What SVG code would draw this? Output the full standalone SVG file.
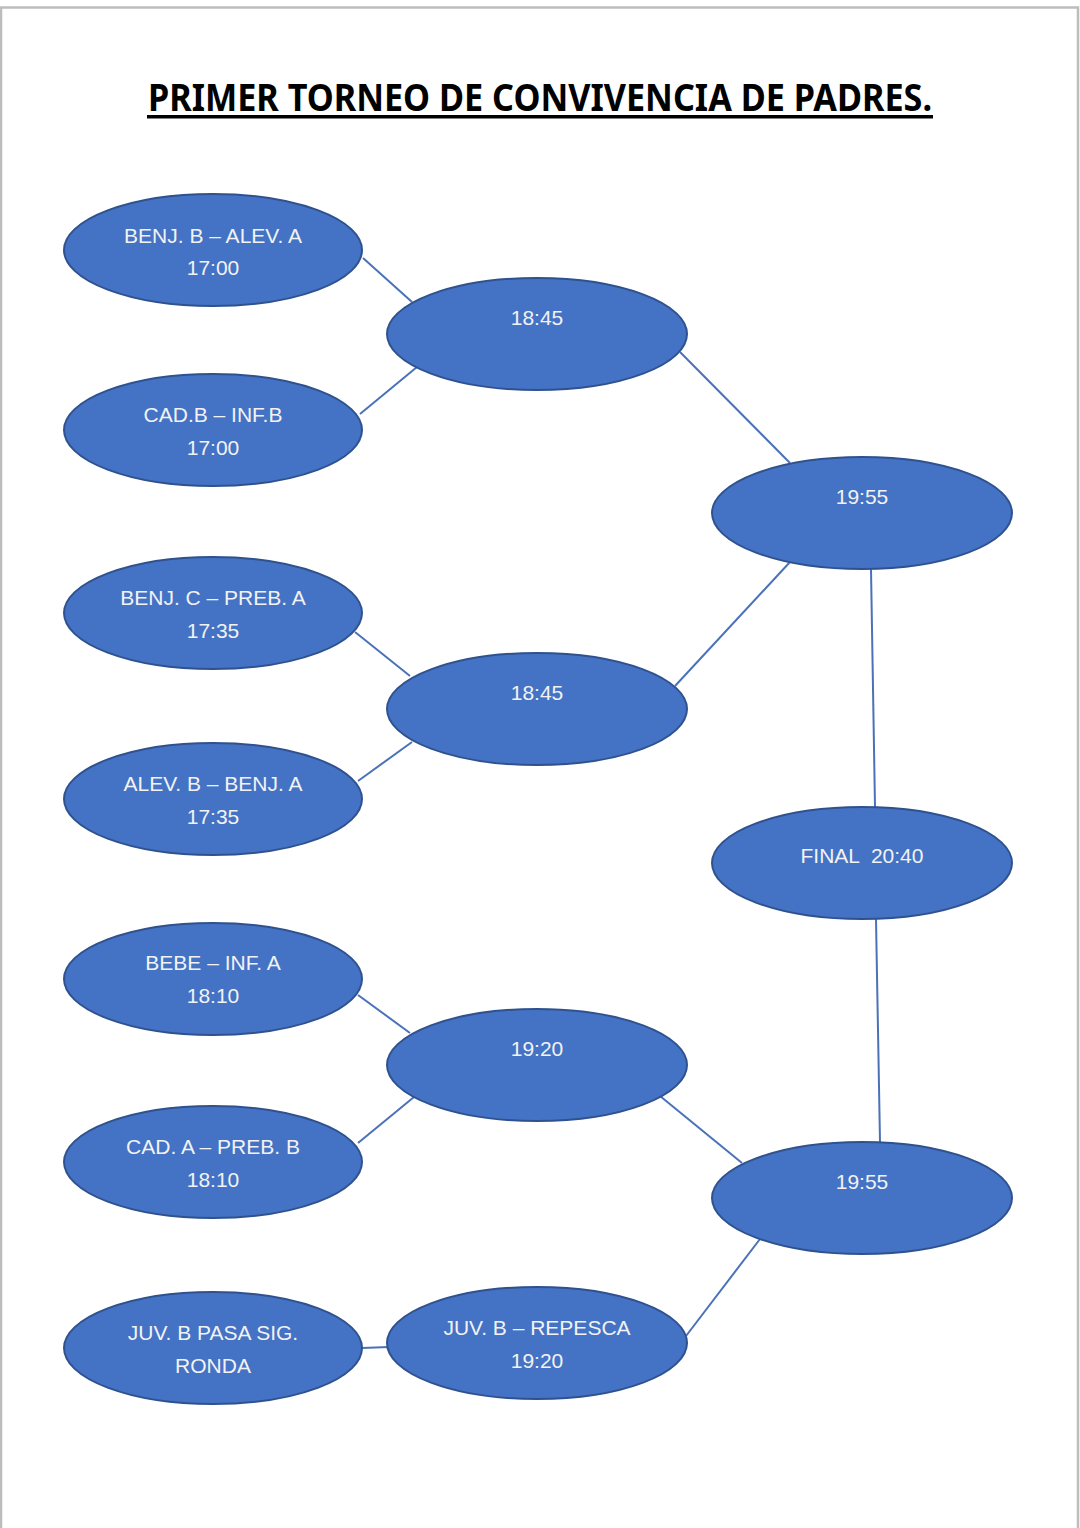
<svg xmlns="http://www.w3.org/2000/svg" width="1080" height="1528" viewBox="0 0 1080 1528">
<style>
.n ellipse{fill:#4472C4;stroke:#2F528F;stroke-width:2}
.n text{fill:#F2F2F2;font-family:"Liberation Sans",Arial,sans-serif;font-size:21px;text-anchor:middle;white-space:pre}
.c line{stroke:#4A72B8;stroke-width:2}
.t{font-family:"Noto Sans","Liberation Sans",Arial,sans-serif;font-weight:bold;font-size:37px;fill:#000}
</style>
<rect x="0" y="0" width="1080" height="1528" fill="#fff"/>
<rect x="1" y="7.5" width="1077" height="1530" fill="none" stroke="#BDBDBD" stroke-width="2.5"/>
<text class="t" x="148" y="111" textLength="784" lengthAdjust="spacingAndGlyphs">PRIMER TORNEO DE CONVIVENCIA DE PADRES.</text>
<rect x="147" y="115" width="786" height="3.5" fill="#000"/>
<g class="c">
<line x1="363" y1="258" x2="412" y2="302"/>
<line x1="360" y1="414" x2="417" y2="367"/>
<line x1="680" y1="352" x2="790" y2="463"/>
<line x1="675" y1="686" x2="790" y2="562"/>
<line x1="355" y1="632" x2="410" y2="676"/>
<line x1="358" y1="781" x2="412" y2="742"/>
<line x1="871" y1="569" x2="875" y2="807"/>
<line x1="876" y1="919" x2="880" y2="1142"/>
<line x1="358" y1="995" x2="410" y2="1033"/>
<line x1="358" y1="1143" x2="414" y2="1097"/>
<line x1="660" y1="1096" x2="742" y2="1163"/>
<line x1="686" y1="1336" x2="760" y2="1239"/>
<line x1="362" y1="1348" x2="389" y2="1347"/>
</g>
<g id="n1" class="n"><ellipse cx="213" cy="250" rx="149" ry="56"/><text x="213" y="243">BENJ. B – ALEV. A</text><text x="213" y="275">17:00</text></g>
<g id="n2" class="n"><ellipse cx="213" cy="430" rx="149" ry="56"/><text x="213" y="422">CAD.B – INF.B</text><text x="213" y="455">17:00</text></g>
<g id="n3" class="n"><ellipse cx="213" cy="613" rx="149" ry="56"/><text x="213" y="605">BENJ. C – PREB. A</text><text x="213" y="638">17:35</text></g>
<g id="n4" class="n"><ellipse cx="213" cy="799" rx="149" ry="56"/><text x="213" y="791">ALEV. B – BENJ. A</text><text x="213" y="824">17:35</text></g>
<g id="n5" class="n"><ellipse cx="213" cy="979" rx="149" ry="56"/><text x="213" y="970">BEBE – INF. A</text><text x="213" y="1003">18:10</text></g>
<g id="n6" class="n"><ellipse cx="213" cy="1162" rx="149" ry="56"/><text x="213" y="1154">CAD. A – PREB. B</text><text x="213" y="1187">18:10</text></g>
<g id="n7" class="n"><ellipse cx="213" cy="1348" rx="149" ry="56"/><text x="213" y="1340">JUV. B PASA SIG.</text><text x="213" y="1373">RONDA</text></g>
<g id="m1" class="n"><ellipse cx="537" cy="334" rx="150" ry="56"/><text x="537" y="325">18:45</text></g>
<g id="m2" class="n"><ellipse cx="537" cy="709" rx="150" ry="56"/><text x="537" y="700">18:45</text></g>
<g id="m3" class="n"><ellipse cx="537" cy="1065" rx="150" ry="56"/><text x="537" y="1056">19:20</text></g>
<g id="m4" class="n"><ellipse cx="537" cy="1343" rx="150" ry="56"/><text x="537" y="1335">JUV. B – REPESCA</text><text x="537" y="1368">19:20</text></g>
<g id="r1" class="n"><ellipse cx="862" cy="513" rx="150" ry="56"/><text x="862" y="504">19:55</text></g>
<g id="r2" class="n"><ellipse cx="862" cy="863" rx="150" ry="56"/><text x="862" y="863" xml:space="preserve">FINAL  20:40</text></g>
<g id="r3" class="n"><ellipse cx="862" cy="1198" rx="150" ry="56"/><text x="862" y="1189">19:55</text></g>
</svg>
